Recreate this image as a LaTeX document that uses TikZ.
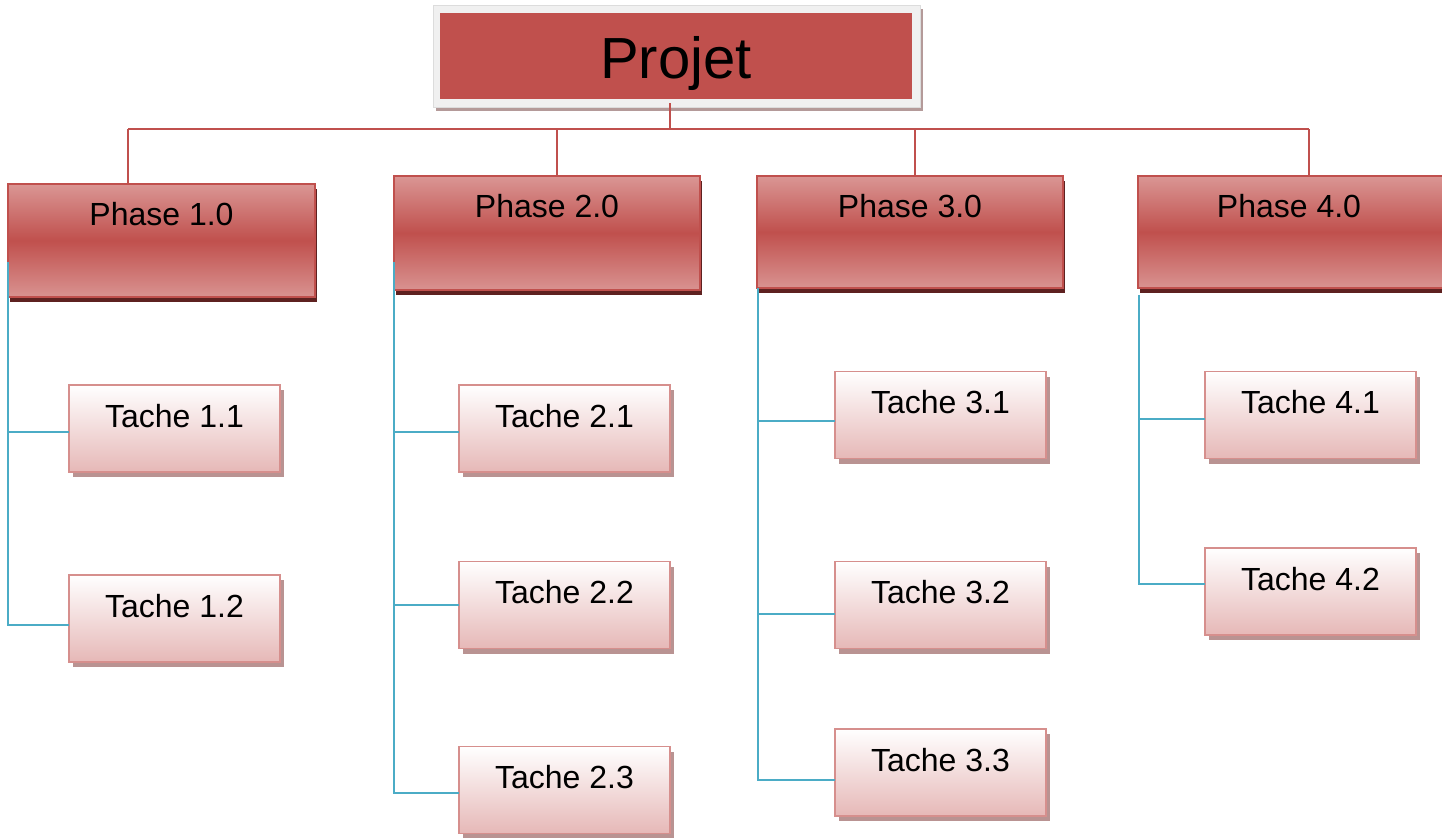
\documentclass[tikz,border=0pt]{standalone}
\usepackage{fontspec}
\setmainfont{Liberation Sans}
\usetikzlibrary{shadows}
\definecolor{accred}{HTML}{C0504D}
\definecolor{lightred}{HTML}{DA9694}
\definecolor{phaseshadow}{HTML}{5E2120}
\definecolor{taskborder}{HTML}{D68F8D}
\definecolor{taskbottom}{HTML}{E6B8B7}
\definecolor{taskshadow}{HTML}{B99392}
\definecolor{framegray}{HTML}{F0F0F0}
\definecolor{frameline}{HTML}{DCDCDC}
\definecolor{frameshadow}{HTML}{B49A99}
\definecolor{linkblue}{HTML}{4BACC6}
\begin{document}
\begin{tikzpicture}[x=0.5pt,y=-0.5pt,
  every node/.style={inner sep=0pt, outer sep=0pt},
  frame/.style={fill=framegray, draw=frameline, line width=0.5pt,
    minimum width=243.5pt, minimum height=51pt,
    drop shadow={shadow xshift=1.5pt, shadow yshift=-2pt, fill=frameshadow, opacity=1}},
  rootbox/.style={fill=accred, minimum width=236pt, minimum height=43pt},
  phase/.style={draw=accred, line width=0.9pt,
    top color=lightred, bottom color=lightred!95!accred, middle color=accred,
    drop shadow={shadow xshift=1pt, shadow yshift=-2.5pt, fill=phaseshadow, opacity=1}},
  task/.style={draw=taskborder, line width=0.8pt,
    top color=white, bottom color=taskbottom,
    minimum width=105.5pt, minimum height=43.5pt,
    drop shadow={shadow xshift=2pt, shadow yshift=-2.5pt, fill=taskshadow, opacity=1}},
  label/.style={anchor=base, font=\fontsize{16}{19}\selectfont},
  redline/.style={draw=accred, line width=1.2pt},
  blueline/.style={draw=linkblue, line width=1.2pt},
]
\useasboundingbox (0,0) rectangle (1442,837);
\fill[white] (0,0) rectangle (1442,837);

% root of the breakdown
\node[frame] (frame) at (676.5,56) {};
\node[rootbox] (proj) at (676,56) {};
\node[anchor=base, font=\fontsize{29}{34}\selectfont] (projtext) at ([yshift=-11pt]proj.center) {Projet};

% red bus from the root to the phases
\coordinate (b0) at (670,129);
\coordinate (b1) at (128,129);
\coordinate (b2) at (557,129);
\coordinate (b3) at (915,129);
\coordinate (b4) at (1309,129);
\draw[redline] (b0) -- ([yshift=2pt]b0 |- frame.south);
\draw[redline] (b1) -- (b4);

% phases
\node[phase, minimum width=153.5pt, minimum height=56.5pt] (p1) at (161.5,240.5) {};
\node[phase, minimum width=153pt, minimum height=57pt] (p2) at (547,233) {};
\node[phase, minimum width=153pt, minimum height=56pt] (p3) at (910,232) {};
\node[phase, minimum width=157pt, minimum height=56pt] (p4) at (1295,232) {};
\node[label] (p1t) at ([yshift=-20.5pt]p1.north) {Phase 1.0};
\node[label] (p2t) at ([yshift=-20.5pt]p2.north) {Phase 2.0};
\node[label] (p3t) at ([yshift=-20.5pt]p3.north) {Phase 3.0};
\node[label] (p4t) at ([xshift=-3pt,yshift=-20.5pt]p4.north) {Phase 4.0};

\draw[redline] (b1) -- (b1 |- p1.north);
\draw[redline] (b2) -- (b2 |- p2.north);
\draw[redline] (b3) -- (b3 |- p3.north);
\draw[redline] (b4) -- (b4 |- p4.north);

% tasks
\node[task] (t11) at (174.5,428.5) {};
\node[task] (t12) at (174.5,618.5) {};
\node[task] (t21) at (564.5,428.5) {};
\node[task] (t22) at (564.5,605) {};
\node[task] (t23) at (564.5,790) {};
\node[task] (t31) at (940.5,415) {};
\node[task] (t32) at (940.5,605) {};
\node[task] (t33) at (940.5,772.5) {};
\node[task] (t41) at (1310.5,415) {};
\node[task] (t42) at (1310.5,591.5) {};
\foreach \t/\txt in {t11/Tache 1.1, t12/Tache 1.2, t21/Tache 2.1, t22/Tache 2.2,
  t23/Tache 2.3, t31/Tache 3.1, t32/Tache 3.2, t33/Tache 3.3, t41/Tache 4.1, t42/Tache 4.2}
  \node[label] (\t l) at ([yshift=-21pt]\t.north) {\txt};

% blue links from each phase to its tasks
\coordinate (s1) at ([yshift=-10.75pt]p1.west);
\coordinate (h11) at ([yshift=-1.75pt]t11.west);
\coordinate (h12) at ([yshift=-3.25pt]t12.west);
\draw[blueline] (s1) |- (h12);
\draw[blueline] (h11) -- (h11 -| s1);

\coordinate (s2) at ([yshift=-14.5pt]p2.west);
\coordinate (h21) at ([yshift=-1.75pt]t21.west);
\coordinate (h22) at (t22.west);
\coordinate (h23) at ([yshift=-1.5pt]t23.west);
\draw[blueline] (s2) |- (h23);
\draw[blueline] (h21) -- (h21 -| s2);
\draw[blueline] (h22) -- (h22 -| s2);

\coordinate (s3) at ([xshift=0.5pt]p3.south west);
\coordinate (h31) at ([yshift=-3pt]t31.west);
\coordinate (h32) at ([yshift=-4.5pt]t32.west);
\coordinate (h33) at ([yshift=-3.75pt]t33.west);
\draw[blueline] (s3) |- (h33);
\draw[blueline] (h31) -- (h31 -| s3);
\draw[blueline] (h32) -- (h32 -| s3);

\coordinate (s4) at ([xshift=0.5pt,yshift=-3.5pt]p4.south west);
\coordinate (h41) at ([yshift=-2pt]t41.west);
\coordinate (h42) at ([yshift=3.75pt]t42.west);
\draw[blueline] (s4) |- (h42);
\draw[blueline] (h41) -- (h41 -| s4);
\end{tikzpicture}
\end{document}
